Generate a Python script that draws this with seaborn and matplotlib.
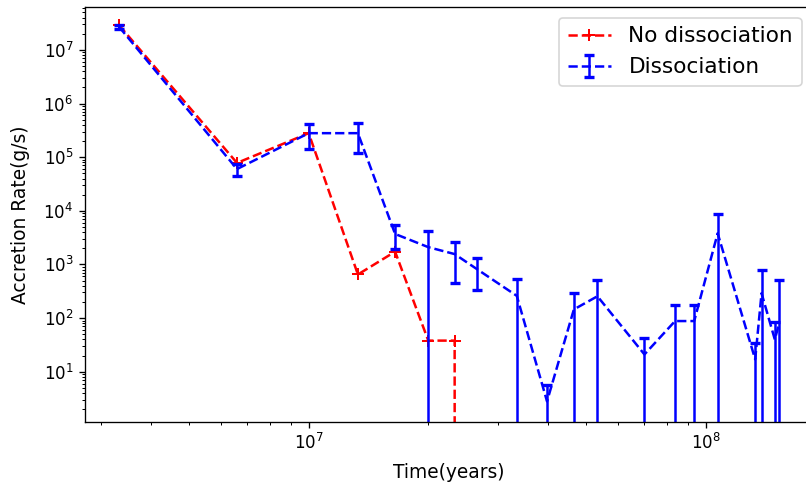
import matplotlib
matplotlib.use('Agg')
import matplotlib.pyplot as plt
import seaborn as sns
import numpy as np
import pandas as pd

# --- Data ---
time_years = [3.33e6, 6.6e6, 1.0e7, 1.33e7, 1.65e7, 2.0e7, 2.33e7, 2.65e7,
              3.34e7, 3.98e7, 4.65e7, 5.33e7, 7.0e7, 8.36e7, 9.34e7, 1.07e8,
              1.33e8, 1.38e8, 1.49e8, 1.53e8]

# no dissociation: drops to zero after ~2.3e7 yr
rate_nodiss = [2.9e7, 7.8e4, 2.8e5, 650, 1730, 38, 38, 0]

rate_diss = [2.7e7, 6.0e4, 2.8e5, 2.8e5, 3700, 2100, 1560, 820,
             260, 2.8, 145, 255, 21, 88, 88, 3800,
             17, 290, 40, 82]
rate_diss_err = [2.0e6, 1.5e4, 1.4e5, 1.6e5, 1750, 2150, 1100, 490,
                 265, 2.9, 150, 265, 21, 90, 90, 4800,
                 18, 500, 45, 430]

df_red = pd.DataFrame({'time': time_years[:len(rate_nodiss)], 'rate': rate_nodiss})

# --- Plot ---
DPI = 120
fig = plt.figure(figsize=(806 / DPI, 483 / DPI), dpi=DPI)
ax = fig.add_axes([85 / 806, 1 - 421.7 / 483, (812.6 - 85) / 806, (421.7 - 7) / 483])

sns.lineplot(data=df_red, x='time', y='rate', color='red', linestyle='--',
             marker='+', markersize=7, mec='red', mew=1.2, lw=1.5,
             estimator=None, sort=False, label='No dissociation', ax=ax)

ax.errorbar(time_years, rate_diss, yerr=rate_diss_err, fmt='--', color='blue',
            lw=1.5, capsize=3, capthick=2, label='Dissociation')

ax.set_xscale('log')
ax.set_yscale('log')
ax.set_xlim(2.735e6, 1.855e8)
ax.set_ylim(1.17, 6.3e7)

ax.set_xlabel('Time(years)', fontsize=11.2, labelpad=6)
ax.set_ylabel('Accretion Rate(g/s)', fontsize=11.2, labelpad=8)
ax.legend(loc='upper right', fontsize=13)

fig.savefig('out.png', dpi=DPI)
